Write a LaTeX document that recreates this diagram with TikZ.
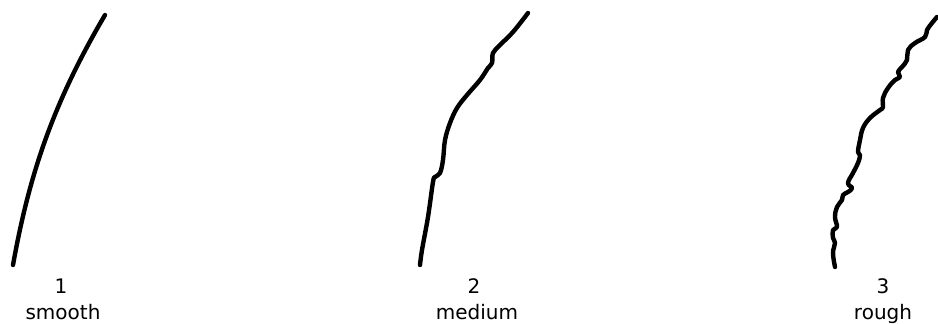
\documentclass[tikz,border=0pt]{standalone}
\usepackage{fontspec}
\setmainfont{DejaVu Sans}
\usepackage{tikz}
\usetikzlibrary{positioning}

\begin{document}
\begin{tikzpicture}[x=1pt, y=-1pt,
    curve/.style={line width=4.4pt, line cap=round, line join=round},
    lbl/.style={inner sep=0pt, anchor=base, font=\fontsize{20}{24}\selectfont}]
    \useasboundingbox (0,0) rectangle (938,324);

    % 1 smooth
    \draw [curve] (13,265) .. controls (30,170) and (55,100) .. (105,15);
    % 2 medium
    \draw [curve] plot[smooth, tension=0.6] coordinates {(420,265) (422,250) (428,217) (433,182) (435,177) (440,173) (443,160) (445,140) (450,123) (457,108) (467,95) (480,80) (488,68) (492,63) (493,53) (500,45) (513,32) (528,13)};
    % 3 rough
    \draw [curve] plot[smooth, tension=0.7] coordinates {(835,267) (833,253) (835,243) (833,238) (833,230) (837,227) (835,217) (837,207) (842,200) (843,195) (848,192) (852,188) (848,183) (853,173) (858,163) (860,155) (858,152) (860,140) (863,128) (870,118) (880,110) (883,107) (883,98) (888,88) (895,80) (900,77) (898,72) (902,67) (907,60) (908,50) (915,43) (925,37) (927,30) (932,23) (937,17)};

    \node (one) [lbl] at (61,293) {1};
    \node (smooth) [lbl] at (63,319) {smooth};
    \node (two) [lbl] at (474,293) {2};
    \node (medium) [lbl] at (477,319) {medium};
    \node (three) [lbl] at (883,293) {3};
    \node (rough) [lbl] at (883,319) {rough};
\end{tikzpicture}
\end{document}
